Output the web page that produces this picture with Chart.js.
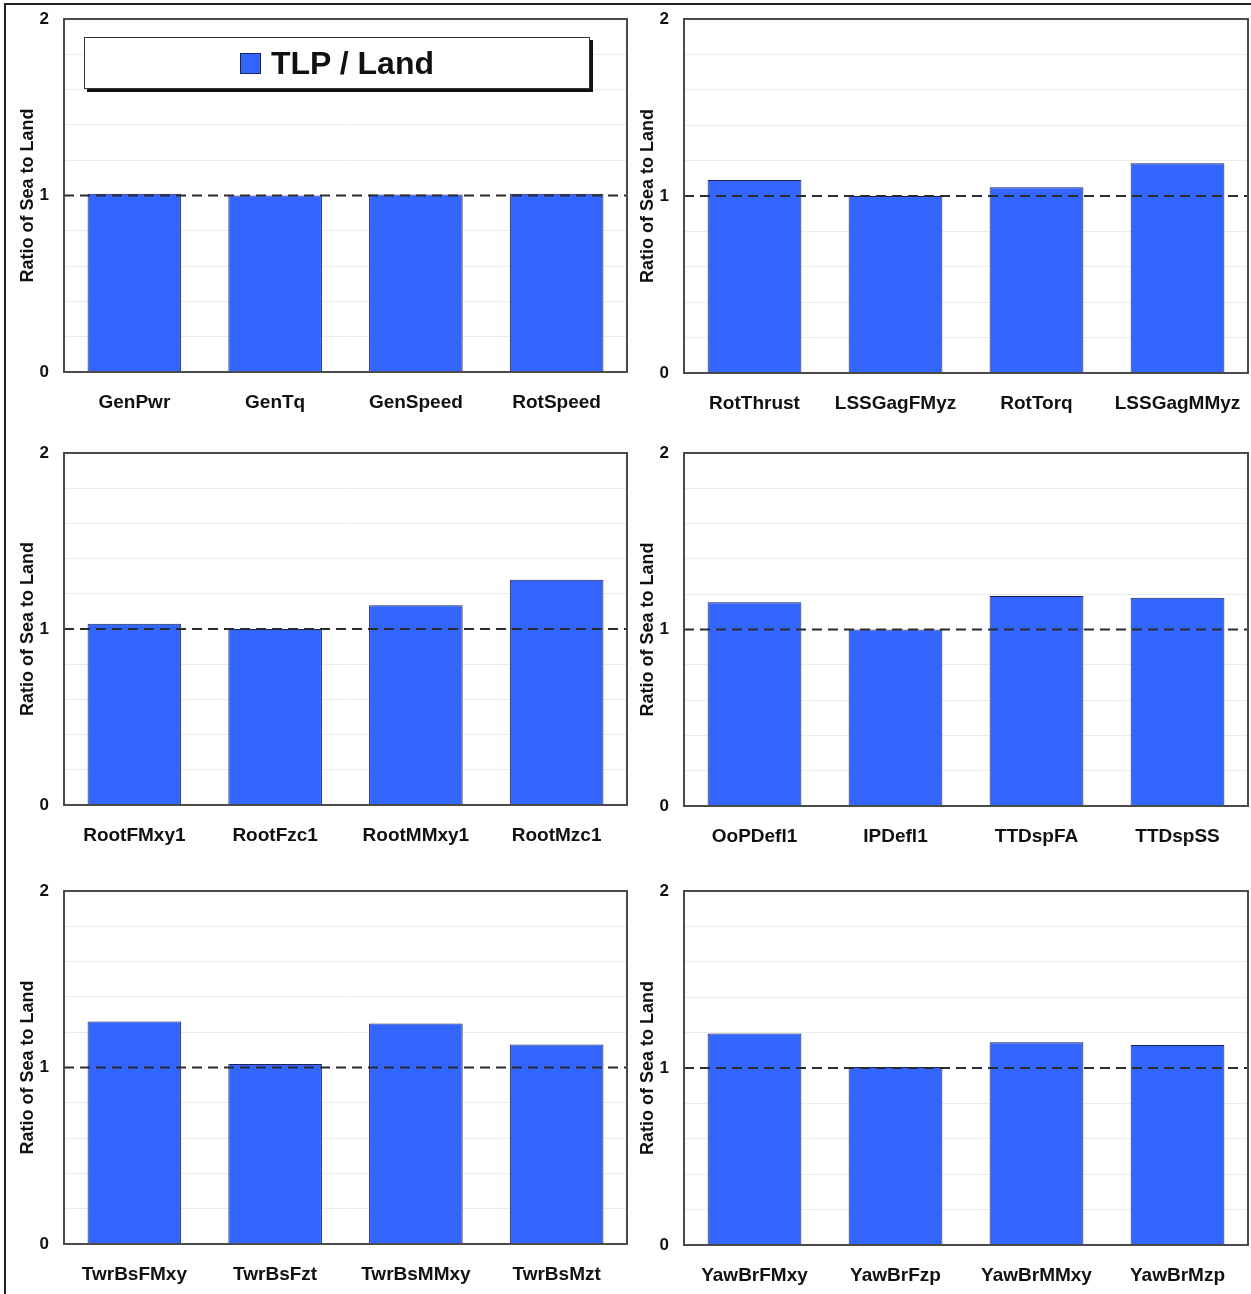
<!DOCTYPE html>
<html>
<head>
<meta charset="utf-8">
<script src="https://cdn.jsdelivr.net/npm/chart.js@4/dist/chart.umd.min.js"></script>
<style>
    body { margin: 0; background: #fff; width: 1251px; height: 1294px; overflow: hidden; position: relative;
           font-family: "Liberation Sans", Arial, sans-serif; }
    .frame { position: absolute; left: 4px; top: 3px; width: 1300px; height: 1300px;
             border-left: 2px solid #222; border-top: 2px solid #222; }
    canvas { position: absolute; }
    .legend { position: absolute; left: 84px; top: 37px; width: 504px; height: 50px;
              border: 1.5px solid #333; background: #fff; box-shadow: 3px 3px 0 #111;
              display: flex; align-items: center; justify-content: center;
              font-weight: bold; font-size: 32px; color: #111; }
    .legend .swatch { display: inline-block; width: 19px; height: 19px; background: #3366ff;
                      border: 1px solid #1a2460; margin-right: 10px; }
</style>
</head>
<body>
<div class="frame"></div>
<canvas id="panel1"></canvas>
<canvas id="panel2"></canvas>
<canvas id="panel3"></canvas>
<canvas id="panel4"></canvas>
<canvas id="panel5"></canvas>
<canvas id="panel6"></canvas>
<div class="legend"><span class="swatch"></span>TLP / Land</div>

<script>
// Ratio of sea (TLP) to land loads, one panel per group of channels
const seriesLabel = 'TLP / Land';
const yTickLabels = ['0', '1', '2'];

const rotorLabels = ['GenPwr', 'GenTq', 'GenSpeed', 'RotSpeed'];
const rotorValues = [1.01, 1.00, 1.005, 1.01];

const shaftLabels = ['RotThrust', 'LSSGagFMyz', 'RotTorq', 'LSSGagMMyz'];
const shaftValues = [1.09, 1.00, 1.05, 1.185];

const rootLabels = ['RootFMxy1', 'RootFzc1', 'RootMMxy1', 'RootMzc1'];
const rootValues = [1.03, 1.00, 1.135, 1.28];

const deflLabels = ['OoPDefl1', 'IPDefl1', 'TTDspFA', 'TTDspSS'];
const deflValues = [1.155, 1.00, 1.19, 1.18];

const towerLabels = ['TwrBsFMxy', 'TwrBsFzt', 'TwrBsMMxy', 'TwrBsMzt'];
const towerValues = [1.26, 1.02, 1.25, 1.13];

const yawLabels = ['YawBrFMxy', 'YawBrFzp', 'YawBrMMxy', 'YawBrMzp'];
const yawValues = [1.195, 1.005, 1.145, 1.13];

const FONT = '"Liberation Sans", Arial, sans-serif';
const PAD_TOP = 26;
const PAD_RIGHT = 20;
const Y_AXIS_W = 64;
const X_AXIS_H = 50;

// dashed line at ratio 1 and the dark frame round the plot area
const framePlugin = {
    id: 'frame',
    afterDatasetsDraw(chart) {
        const { ctx, chartArea: a, scales } = chart;
        const y = scales.y.getPixelForValue(1);
        ctx.save();
        ctx.strokeStyle = '#2b2b2b';
        ctx.lineWidth = 2;
        ctx.setLineDash([10, 6]);
        ctx.beginPath();
        ctx.moveTo(a.left, y);
        ctx.lineTo(a.right, y);
        ctx.stroke();
        ctx.setLineDash([]);
        ctx.strokeStyle = '#4a4a4a';
        ctx.lineWidth = 2;
        ctx.strokeRect(a.left, a.top, a.right - a.left, a.bottom - a.top);
        ctx.restore();
    }
};

function drawPanel(id, plot, labels, values) {
    const canvas = document.getElementById(id);
    const w = plot.right - plot.left + Y_AXIS_W + PAD_RIGHT;
    const h = plot.bottom - plot.top + PAD_TOP + X_AXIS_H;
    canvas.width = w;
    canvas.height = h;
    canvas.style.left = (plot.left - Y_AXIS_W) + 'px';
    canvas.style.top = (plot.top - PAD_TOP) + 'px';
    canvas.style.width = w + 'px';
    canvas.style.height = h + 'px';

    new Chart(canvas, {
        type: 'bar',
        data: {
            labels,
            datasets: [{
                label: seriesLabel,
                data: values,
                backgroundColor: '#3366ff',
                borderColor: '#1c2350',
                borderWidth: 1,
                barPercentage: 0.665,
                categoryPercentage: 1
            }]
        },
        options: {
            responsive: false,
            animation: false,
            layout: { padding: { top: PAD_TOP, right: PAD_RIGHT, left: 0, bottom: 0 } },
            plugins: { legend: { display: false }, tooltip: { enabled: false } },
            scales: {
                x: {
                    grid: { display: false, drawTicks: false },
                    border: { display: false },
                    ticks: {
                        autoSkip: false, maxRotation: 0, padding: 19, color: '#111',
                        font: { family: FONT, size: 19, weight: 'bold' }
                    },
                    afterFit(scale) { scale.height = X_AXIS_H; }
                },
                y: {
                    min: 0,
                    max: 2,
                    grid: {
                        drawTicks: false,
                        lineWidth: 1,
                        color: (c) => {
                            const v = c.tick ? Math.round(c.tick.value * 10) / 10 : 0;
                            return (v === 0 || v === 1 || v === 2) ? 'rgba(0,0,0,0)' : '#ebebeb';
                        }
                    },
                    border: { display: false },
                    ticks: {
                        stepSize: 0.2,
                        autoSkip: false,
                        padding: 15,
                        color: '#111',
                        font: { family: FONT, size: 17, weight: 'bold' },
                        callback: (v) => {
                            const r = Math.round(v * 10) / 10;
                            return Number.isInteger(r) ? yTickLabels[r] : '';
                        }
                    },
                    title: {
                        display: true,
                        text: 'Ratio of Sea to Land',
                        color: '#111',
                        padding: { top: 17, bottom: 0 },
                        font: { family: FONT, size: 18, weight: 'bold' }
                    },
                    afterFit(scale) { scale.width = Y_AXIS_W; }
                }
            }
        },
        plugins: [framePlugin]
    });
}

drawPanel('panel1', { left: 64, top: 19, right: 627, bottom: 372 }, rotorLabels, rotorValues);
drawPanel('panel2', { left: 684, top: 19, right: 1248, bottom: 373 }, shaftLabels, shaftValues);
drawPanel('panel3', { left: 64, top: 453, right: 627, bottom: 805 }, rootLabels, rootValues);
drawPanel('panel4', { left: 684, top: 453, right: 1248, bottom: 806 }, deflLabels, deflValues);
drawPanel('panel5', { left: 64, top: 891, right: 627, bottom: 1244 }, towerLabels, towerValues);
drawPanel('panel6', { left: 684, top: 891, right: 1248, bottom: 1245 }, yawLabels, yawValues);
</script>
</body>
</html>
